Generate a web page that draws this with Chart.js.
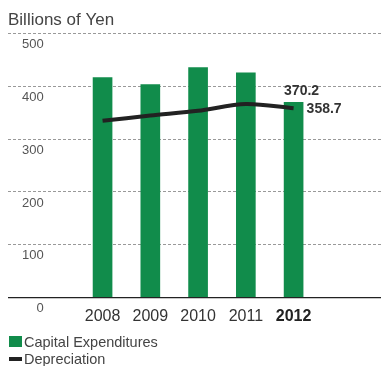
<!DOCTYPE html>
<html>
<head>
<meta charset="utf-8">
<script src="https://cdn.jsdelivr.net/npm/chart.js@4"></script>
<style>
  body { margin: 0; background: #fff; }
  #wrap { position: relative; width: 381px; height: 366px; }
  #legend {
    position: absolute; left: 9px; top: 333px;
    font: 14.5px "Liberation Sans", Arial, sans-serif; color: #444;
  }
  .row { display: flex; align-items: center; height: 17px; white-space: nowrap; }
  .swatch { display: inline-block; width: 13px; margin-right: 2px; }
</style>
</head>
<body>
<div id="wrap">
  <canvas id="capexChart" width="381" height="366"></canvas>
  <div id="legend"></div>
</div>
<script>
const years = [2008, 2009, 2010, 2011, 2012];
const capex = [417, 404, 436, 426, 370.2];
const depreciation = [335, 345, 354, 367, 358.7];
const yTicks = [0, 100, 200, 300, 400, 500];

const FONT = "'Liberation Sans', Arial, sans-serif";
const GREEN = "#118c4b";

// value call-outs for the latest year
const valueLabels = {
  id: "valueLabels",
  afterDatasetsDraw(chart) {
    const ctx = chart.ctx;
    const last = years.length - 1;
    const bar = chart.getDatasetMeta(0).data[last];
    const pt = chart.getDatasetMeta(1).data[last];
    ctx.save();
    ctx.font = "bold 14px " + FONT;
    ctx.fillStyle = "#333";
    ctx.textBaseline = "middle";
    ctx.textAlign = "center";
    ctx.fillText(capex[last].toFixed(1), bar.x + 8, bar.y - 11);
    ctx.textAlign = "left";
    ctx.fillText(depreciation[last].toFixed(1), pt.x + 13, pt.y + 1);
    ctx.restore();
  }
};

const chart = new Chart(document.getElementById("capexChart"), {
  type: "bar",
  data: {
    datasets: [
      {
        type: "bar",
        label: "Capital Expenditures",
        data: years.map((y, i) => ({ x: y, y: capex[i] })),
        backgroundColor: GREEN,
        barThickness: 19,
        order: 1
      },
      {
        type: "line",
        label: "Depreciation",
        data: years.map((y, i) => ({ x: y, y: depreciation[i] })),
        borderColor: "#222",
        borderWidth: 4,
        pointRadius: 0,
        tension: 0.3,
        order: 0
      }
    ]
  },
  options: {
    responsive: false,
    animation: false,
    layout: { padding: { left: 8, right: 0, top: 0, bottom: 38.5 } },
    plugins: {
      legend: { display: false },
      tooltip: { enabled: false },
      title: {
        display: true,
        text: "Billions of Yen",
        align: "start",
        color: "#444",
        font: { family: FONT, size: 17, weight: "normal" },
        padding: { top: 10.5, bottom: 3 }
      }
    },
    scales: {
      x: {
        type: "linear",
        offset: false,
        min: 2006.02,
        max: 2013.83,
        afterBuildTicks: scale => { scale.ticks = years.map(v => ({ value: v })); },
        grid: { display: false },
        border: { display: false },
        ticks: {
          padding: 1.5,
          autoSkip: false,
          maxRotation: 0,
          callback: v => String(v),
          color: c => (c.tick && c.tick.value === 2012 ? "#222" : "#333"),
          font: c => ({
            family: FONT,
            size: 16,
            weight: c.tick && c.tick.value === 2012 ? "bold" : "normal"
          })
        }
      },
      y: {
        min: 0,
        max: 500,
        afterBuildTicks: scale => { scale.ticks = yTicks.map(v => ({ value: v })); },
        afterFit: scale => { scale.width = 0; },
        border: {
          display: false,
          dash: c => (c.tick && c.tick.value === 0 ? [] : [3, 2])
        },
        grid: {
          drawTicks: false,
          color: c => (c.tick && c.tick.value === 0 ? "#222" : "#999"),
          lineWidth: c => (c.tick && c.tick.value === 0 ? 1.3 : 1)
        },
        ticks: {
          mirror: true,
          crossAlign: "far",
          padding: 14,
          labelOffset: 11,
          color: "#555",
          font: { family: FONT, size: 13 }
        }
      }
    }
  },
  plugins: [valueLabels]
});

// legend rows built from the datasets
document.getElementById("legend").innerHTML = chart.data.datasets.map(ds => {
  const isBar = ds.type === "bar";
  return `<div class="row"><span class="swatch" style="height:${isBar ? 11 : 4}px;background:${isBar ? ds.backgroundColor : ds.borderColor}"></span>${ds.label}</div>`;
}).join("");
</script>
</body>
</html>
